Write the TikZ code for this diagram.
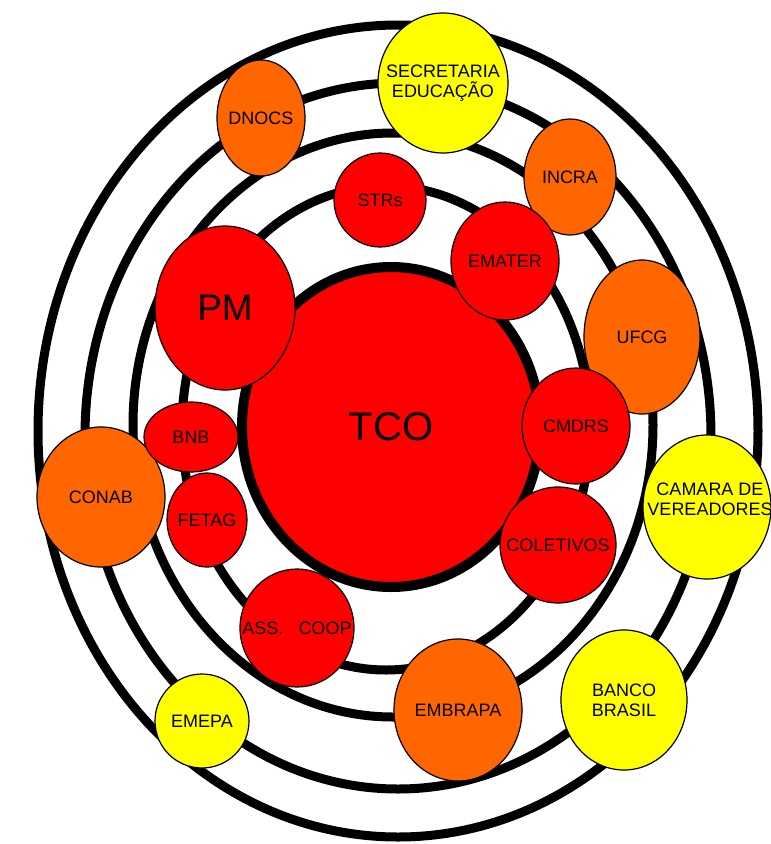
\documentclass[tikz,border=0pt]{standalone}
\usepackage{fontspec}
\setmainfont{Liberation Sans}
\usepackage{xcolor}
\usepackage{tikz}
\usetikzlibrary{shapes.geometric}

\definecolor{actred}{RGB}{255,0,0}
\definecolor{actorange}{RGB}{255,102,0}
\definecolor{actyellow}{RGB}{255,255,0}

\begin{document}
\begin{tikzpicture}[
    x=1pt, y=-1pt,
    ring/.style={draw=black, line width=9pt},
    actor/.style={ellipse, draw=black, line width=1.2pt, inner sep=0pt},
    redactor/.style={actor, fill=actred},
    orangeactor/.style={actor, fill=actorange},
    yellowactor/.style={actor, fill=actyellow},
    tag/.style={font=\fontsize{18}{20}\selectfont, align=center, inner sep=0pt},
    bigtag/.style={font=\fontsize{37}{40}\selectfont, inner sep=0pt}
]
\useasboundingbox (0,0) rectangle (771,844);
% Rings
\draw[ring] (398,431) ellipse [x radius=360pt, y radius=406pt];
\draw[ring] (398,436) ellipse [x radius=313pt, y radius=353pt];
\draw[ring] (393,425) ellipse [x radius=260pt, y radius=292pt];
\draw[ring] (386,428) ellipse [x radius=204pt, y radius=242pt];
% Centre
\node[ellipse, draw=black, line width=10pt, fill=actred, inner sep=0pt, minimum width=298pt, minimum height=320pt,
      label={[bigtag, font=\fontsize{40}{44}\selectfont]center:TCO}] (tco) at (391,427) {};
% Actors
\node[yellowactor, minimum width=130pt, minimum height=140pt, label={[tag]center:SECRETARIA\\EDUCAÇÃO}] (secr) at (443,83) {};
\node[orangeactor, minimum width=88pt, minimum height=116pt, label={[tag]center:DNOCS}] (dnocs) at (261,118) {};
\node[orangeactor, minimum width=92pt, minimum height=116pt, label={[tag]center:INCRA}] (incra) at (570,177) {};
\node[redactor, minimum width=92pt, minimum height=94pt, label={[tag]center:STRs}] (strs) at (380,200) {};
\node[redactor, minimum width=108pt, minimum height=118pt, label={[tag]center:EMATER}] (emater) at (505,261) {};
\node[redactor, minimum width=140pt, minimum height=164pt, label={[bigtag]center:PM}] (pm) at (225,308) {};
\node[orangeactor, minimum width=116pt, minimum height=154pt, label={[tag]center:UFCG}] (ufcg) at (642,337) {};
\node[redactor, minimum width=108pt, minimum height=116pt, label={[tag]center:CMDRS}] (cmdrs) at (576,426) {};
\node[orangeactor, minimum width=128pt, minimum height=140pt, label={[tag]center:CONAB}] (conab) at (101,497) {};
\node[redactor, minimum width=94pt, minimum height=70pt, label={[tag]center:BNB}] (bnb) at (191,437) {};
\node[redactor, minimum width=80pt, minimum height=94pt, label={[tag]center:FETAG}] (fetag) at (207,520) {};
\node[redactor, minimum width=116pt, minimum height=116pt, label={[tag]center:COLETIVOS}] (coletivos) at (558,545) {};
\node[yellowactor, minimum width=128pt, minimum height=144pt, label={[tag, xshift=3pt, yshift=8pt]center:CAMARA DE\\VEREADORES}] (camara) at (707,507) {};
\node[redactor, minimum width=114pt, minimum height=118pt, label={[tag]center:ASS.\ \ \ COOP}] (asscoop) at (297,628) {};
\node[orangeactor, minimum width=128pt, minimum height=142pt, label={[tag]center:EMBRAPA}] (embrapa) at (458,710) {};
\node[yellowactor, minimum width=126pt, minimum height=140pt, label={[tag]center:BANCO\\BRASIL}] (banco) at (624,700) {};
\node[yellowactor, minimum width=94pt, minimum height=94pt, label={[tag]center:EMEPA}] (emepa) at (202,721) {};
\end{tikzpicture}
\end{document}
